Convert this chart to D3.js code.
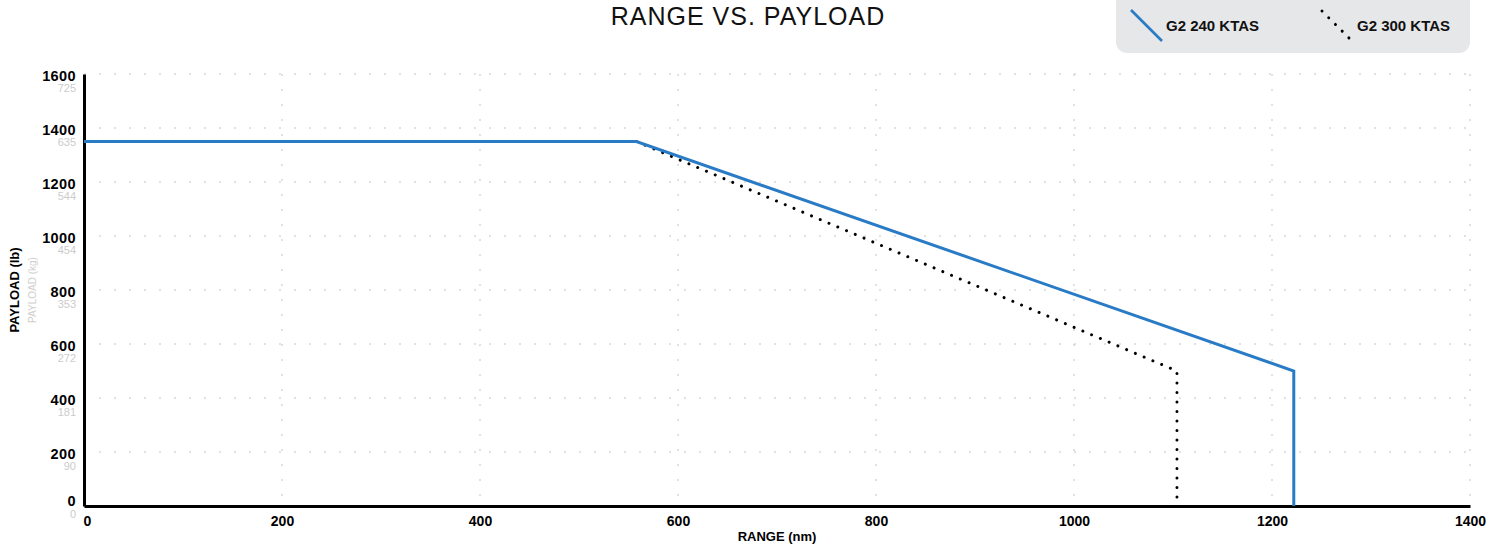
<!DOCTYPE html>
<html>
<head>
<meta charset="utf-8">
<script src="https://cdn.jsdelivr.net/npm/d3@7"></script>
<style>
  html, body { margin: 0; padding: 0; background: #fff; }
  svg { display: block; font-family: "Liberation Sans", Arial, Helvetica, sans-serif; }
</style>
</head>
<body>
<svg id="chart" width="1505" height="556"></svg>
<script>
// ---- data ----
const rangeTicks = [0, 200, 400, 600, 800, 1000, 1200, 1400];
const payloadTicks = [0, 200, 400, 600, 800, 1000, 1200, 1400, 1600];
const payloadKgLabels = ["0", "90", "181", "272", "353", "454", "544", "635", "725"];
const seriesNames = ["G2 240 KTAS", "G2 300 KTAS"];
const g240Range = [0, 558, 1222, 1222];
const g240Payload = [1350, 1350, 500, 0];
const g300Range = [558, 1104, 1104];
const g300Payload = [1350, 500, 0];

// ---- layout ----
const svg = d3.select("#chart");
const x = d3.scaleLinear().domain([0, 1400]).range([84, 1470]);
const y = d3.scaleLinear().domain([0, 1600]).range([506, 74]);
const blue = "#2a7bc6";
const gridColor = "#c4c4c4";

// title
svg.append("text")
  .attr("x", 748).attr("y", 25)
  .attr("text-anchor", "middle")
  .attr("font-size", 25).attr("letter-spacing", 1)
  .attr("fill", "#111")
  .text("RANGE VS. PAYLOAD");

// grid
const grid = svg.append("g");
grid.selectAll("line.h").data(payloadTicks.slice(1)).join("line")
  .attr("x1", x(0)).attr("x2", x(1400))
  .attr("y1", d => y(d)).attr("y2", d => y(d))
  .attr("stroke", gridColor).attr("stroke-width", 1)
  .attr("stroke-dasharray", "2 13");
grid.selectAll("line.v").data(rangeTicks.slice(1)).join("line")
  .attr("x1", d => x(d)).attr("x2", d => x(d))
  .attr("y1", y(1600)).attr("y2", y(0))
  .attr("stroke", gridColor).attr("stroke-width", 1)
  .attr("stroke-dasharray", "2 13");

// axes
const xAxis = d3.axisBottom(x).tickValues(rangeTicks).tickSize(0).tickPadding(10).tickFormat(d3.format("d"));
const gx = svg.append("g").attr("transform", `translate(0,${y(0)})`).call(xAxis);
gx.select(".domain").attr("stroke", "#000").attr("stroke-width", 3);
gx.selectAll(".tick text")
  .attr("font-size", 14).attr("font-weight", "bold").attr("fill", "#000")
  .attr("font-family", "'Liberation Sans', Arial, sans-serif");
gx.selectAll(".tick").filter(d => d === 0).select("text").attr("dx", 3);

const yAxis = d3.axisLeft(y).tickValues(payloadTicks).tickSize(0).tickPadding(8).tickFormat(d3.format("d"));
const gy = svg.append("g").attr("transform", `translate(${x(0)},0)`).call(yAxis);
gy.select(".domain").attr("stroke", "#000").attr("stroke-width", 3);
gy.selectAll(".tick text")
  .attr("font-size", 14.5).attr("font-weight", "bold").attr("fill", "#000")
  .attr("letter-spacing", 0.4)
  .attr("font-family", "'Liberation Sans', Arial, sans-serif")
  .attr("dy", d => d === 0 ? "-0.05em" : "0.45em");
gy.selectAll(".tick").append("text")
  .attr("x", -8)
  .attr("dy", (d) => d === 0 ? "1.0em" : "1.6em")
  .attr("text-anchor", "end")
  .attr("font-size", 11).attr("fill", "#cccccc")
  .attr("font-family", "'Liberation Sans', Arial, sans-serif")
  .text((d, i) => payloadKgLabels[i]);

// axis titles
svg.append("text")
  .attr("x", (x(0) + x(1400)) / 2).attr("y", 541)
  .attr("text-anchor", "middle")
  .attr("font-size", 13).attr("font-weight", "bold").attr("fill", "#000")
  .text("RANGE (nm)");
svg.append("text")
  .attr("transform", `translate(19,${(y(0) + y(1600)) / 2}) rotate(-90)`)
  .attr("text-anchor", "middle")
  .attr("font-size", 13).attr("font-weight", "bold").attr("fill", "#000")
  .text("PAYLOAD (lb)");
svg.append("text")
  .attr("transform", `translate(36,${(y(0) + y(1600)) / 2}) rotate(-90)`)
  .attr("text-anchor", "middle")
  .attr("font-size", 10).attr("fill", "#cfcfcf")
  .text("PAYLOAD (kg)");

// lines
const line = d3.line().x(d => x(d[0])).y(d => y(d[1]));
svg.append("path")
  .datum(g300Range.map((r, i) => [r, g300Payload[i]]))
  .attr("d", line)
  .attr("fill", "none").attr("stroke", "#000").attr("stroke-width", 3)
  .attr("stroke-linecap", "round").attr("stroke-dasharray", "0.01 9.5");
svg.append("path")
  .datum(g240Range.map((r, i) => [r, g240Payload[i]]))
  .attr("d", line)
  .attr("fill", "none").attr("stroke", blue).attr("stroke-width", 3)
  .attr("stroke-linejoin", "miter");

// legend
const lg = svg.append("g");
lg.append("rect")
  .attr("x", 1116).attr("y", -12).attr("width", 354).attr("height", 65)
  .attr("rx", 11).attr("fill", "#e6e7e9");
lg.append("line")
  .attr("x1", 1131).attr("y1", 10).attr("x2", 1162).attr("y2", 41)
  .attr("stroke", blue).attr("stroke-width", 2.6);
lg.append("text")
  .attr("x", 1166).attr("y", 31)
  .attr("font-size", 15).attr("font-weight", "bold").attr("fill", "#111")
  .text(seriesNames[0]);
lg.append("line")
  .attr("x1", 1322).attr("y1", 11).attr("x2", 1351).attr("y2", 40)
  .attr("stroke", "#000").attr("stroke-width", 3)
  .attr("stroke-linecap", "round").attr("stroke-dasharray", "0.01 9.5");
lg.append("text")
  .attr("x", 1357).attr("y", 31)
  .attr("font-size", 15).attr("font-weight", "bold").attr("fill", "#111")
  .text(seriesNames[1]);
</script>
</body>
</html>
